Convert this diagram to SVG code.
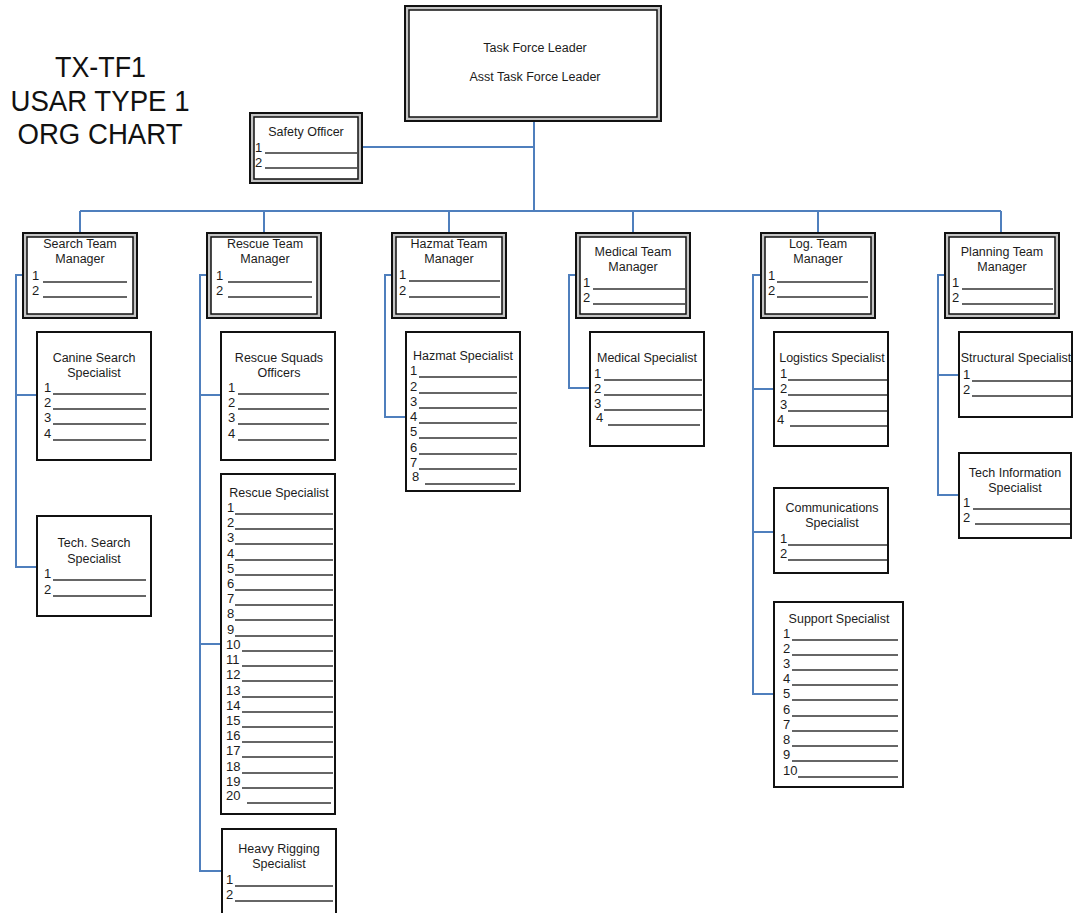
<svg xmlns="http://www.w3.org/2000/svg" width="1074" height="913" viewBox="0 0 1074 913">
<style>
.conn{stroke:#4f7fbd;stroke-width:2;fill:none}
.box{fill:#fff;stroke:#111;stroke-width:2}
.outer{fill:#c4c4c4;stroke:#111;stroke-width:2}
.inner{fill:#fff;stroke:#111;stroke-width:1.5}
.t{font-family:"Liberation Sans",Arial,sans-serif;font-size:12.5px;fill:#1c1c1c}
text.t:not(.c){font-size:13px;transform:translateY(-2px)}
.c{text-anchor:middle}
.ttl{font-family:"Liberation Sans",Arial,sans-serif;font-size:29px;fill:#111;text-anchor:middle}
.ln{stroke:#333;stroke-width:1.3}
</style>
<rect width="1074" height="913" fill="#fff"/>
<g id="title">
<text class="ttl" x="100.5" y="77" textLength="91" lengthAdjust="spacingAndGlyphs">TX-TF1</text>
<text class="ttl" x="100" y="111" textLength="179" lengthAdjust="spacingAndGlyphs">USAR TYPE 1</text>
<text class="ttl" x="100" y="144" textLength="165" lengthAdjust="spacingAndGlyphs">ORG CHART</text>
</g>
<g id="connectors">
<path class="conn" d="M534,121V211M362,147H534M80,211H1001M80,211V233M264,211V233M449,211V233M633,211V233M818,211V233M1001,211V233"/>
<path class="conn" d="M23,275H16V567H37M16,395H37"/>
<path class="conn" d="M207,275H200V871H222M200,395H221M200,644H221"/>
<path class="conn" d="M392,275H385V417H406"/>
<path class="conn" d="M576,275H569V388H590"/>
<path class="conn" d="M761,275H753V694H774M753,389H774M753,532H774"/>
<path class="conn" d="M945,275H938V495H959M938,375H959"/>
</g>
<g id="task-force-leader">
<rect class="outer" x="405" y="6" width="256" height="115"/>
<rect class="inner" x="409" y="10" width="248" height="107"/>
<text class="t c" x="535" y="52">Task Force Leader</text>
<text class="t c" x="535" y="81">Asst Task Force Leader</text>
</g>
<g id="safety-officer">
<rect class="outer" x="250" y="113" width="112" height="70"/>
<rect class="inner" x="254" y="117" width="104" height="62"/>
<text class="t c" x="306" y="136">Safety Officer</text>
<text class="t" x="255" y="154">1</text><line class="ln" x1="265" y1="153" x2="357" y2="153"/>
<text class="t" x="255" y="169">2</text><line class="ln" x1="265" y1="168" x2="357" y2="168"/>
</g>
<g id="search-team-manager">
<rect class="outer" x="23" y="233" width="114" height="85"/>
<rect class="inner" x="27" y="237" width="106" height="77"/>
<text class="t c" x="80" y="248">Search Team</text>
<text class="t c" x="80" y="263">Manager</text>
<text class="t" x="32" y="282">1</text><line class="ln" x1="43" y1="282" x2="127" y2="282"/>
<text class="t" x="32" y="297">2</text><line class="ln" x1="43" y1="297" x2="127" y2="297"/>
</g>
<g id="rescue-team-manager">
<rect class="outer" x="207" y="233" width="114" height="85"/>
<rect class="inner" x="211" y="237" width="106" height="77"/>
<text class="t c" x="265" y="248">Rescue Team</text>
<text class="t c" x="265" y="263">Manager</text>
<text class="t" x="216" y="282">1</text><line class="ln" x1="228" y1="282" x2="312" y2="282"/>
<text class="t" x="216" y="297">2</text><line class="ln" x1="228" y1="297" x2="312" y2="297"/>
</g>
<g id="hazmat-team-manager">
<rect class="outer" x="392" y="233" width="114" height="85"/>
<rect class="inner" x="396" y="237" width="106" height="77"/>
<text class="t c" x="449" y="248">Hazmat Team</text>
<text class="t c" x="449" y="263">Manager</text>
<text class="t" x="399" y="281">1</text><line class="ln" x1="409" y1="281" x2="500" y2="281"/>
<text class="t" x="399" y="297">2</text><line class="ln" x1="409" y1="297" x2="500" y2="297"/>
</g>
<g id="medical-team-manager">
<rect class="outer" x="576" y="233" width="114" height="85"/>
<rect class="inner" x="580" y="237" width="106" height="77"/>
<text class="t c" x="633" y="256">Medical Team</text>
<text class="t c" x="633" y="271">Manager</text>
<text class="t" x="583" y="289">1</text><line class="ln" x1="593" y1="289" x2="685" y2="289"/>
<text class="t" x="583" y="304">2</text><line class="ln" x1="593" y1="304" x2="685" y2="304"/>
</g>
<g id="log-team-manager">
<rect class="outer" x="761" y="233" width="114" height="85"/>
<rect class="inner" x="765" y="237" width="106" height="77"/>
<text class="t c" x="818" y="248">Log. Team</text>
<text class="t c" x="818" y="263">Manager</text>
<text class="t" x="768" y="282">1</text><line class="ln" x1="777" y1="282" x2="868" y2="282"/>
<text class="t" x="768" y="297">2</text><line class="ln" x1="777" y1="297" x2="868" y2="297"/>
</g>
<g id="planning-team-manager">
<rect class="outer" x="945" y="233" width="114" height="85"/>
<rect class="inner" x="949" y="237" width="106" height="77"/>
<text class="t c" x="1002" y="256">Planning Team</text>
<text class="t c" x="1002" y="271">Manager</text>
<text class="t" x="952" y="289">1</text><line class="ln" x1="962" y1="289" x2="1053" y2="289"/>
<text class="t" x="952" y="304">2</text><line class="ln" x1="962" y1="304" x2="1053" y2="304"/>
</g>
<g id="canine-search-specialist">
<rect class="box" x="37" y="332" width="114" height="128"/>
<text class="t c" x="94" y="362">Canine Search</text>
<text class="t c" x="94" y="377">Specialist</text>
<text class="t" x="44" y="394">1</text><line class="ln" x1="53" y1="394" x2="146" y2="394"/>
<text class="t" x="44" y="409">2</text><line class="ln" x1="53" y1="409" x2="146" y2="409"/>
<text class="t" x="44" y="424">3</text><line class="ln" x1="53" y1="424" x2="146" y2="424"/>
<text class="t" x="44" y="440">4</text><line class="ln" x1="53" y1="440" x2="146" y2="440"/>
</g>
<g id="tech-search-specialist">
<rect class="box" x="37" y="516" width="114" height="100"/>
<text class="t c" x="94" y="547">Tech. Search</text>
<text class="t c" x="94" y="563">Specialist</text>
<text class="t" x="44" y="580">1</text><line class="ln" x1="53" y1="580" x2="146" y2="580"/>
<text class="t" x="44" y="596">2</text><line class="ln" x1="53" y1="596" x2="146" y2="596"/>
</g>
<g id="rescue-squads-officers">
<rect class="box" x="221" y="332" width="114" height="128"/>
<text class="t c" x="279" y="362">Rescue Squads</text>
<text class="t c" x="279" y="377">Officers</text>
<text class="t" x="228" y="394">1</text><line class="ln" x1="238" y1="394" x2="329" y2="394"/>
<text class="t" x="228" y="409">2</text><line class="ln" x1="238" y1="409" x2="329" y2="409"/>
<text class="t" x="228" y="424">3</text><line class="ln" x1="238" y1="424" x2="329" y2="424"/>
<text class="t" x="228" y="440">4</text><line class="ln" x1="238" y1="440" x2="329" y2="440"/>
</g>
<g id="rescue-specialist">
<rect class="box" x="221" y="474" width="114" height="340"/>
<text class="t c" x="279" y="497">Rescue Specialist</text>
<text class="t" x="227" y="514">1</text><line class="ln" x1="235" y1="514" x2="333" y2="514"/>
<text class="t" x="227" y="529">2</text><line class="ln" x1="235" y1="529" x2="333" y2="529"/>
<text class="t" x="227" y="544">3</text><line class="ln" x1="235" y1="544" x2="333" y2="544"/>
<text class="t" x="227" y="560">4</text><line class="ln" x1="235" y1="560" x2="333" y2="560"/>
<text class="t" x="227" y="575">5</text><line class="ln" x1="235" y1="575" x2="333" y2="575"/>
<text class="t" x="227" y="590">6</text><line class="ln" x1="235" y1="590" x2="333" y2="590"/>
<text class="t" x="227" y="605">7</text><line class="ln" x1="235" y1="605" x2="333" y2="605"/>
<text class="t" x="227" y="620">8</text><line class="ln" x1="235" y1="620" x2="333" y2="620"/>
<text class="t" x="227" y="636">9</text><line class="ln" x1="235" y1="636" x2="333" y2="636"/>
<text class="t" x="226" y="651">10</text><line class="ln" x1="242" y1="651" x2="333" y2="651"/>
<text class="t" x="226" y="666">11</text><line class="ln" x1="242" y1="666" x2="333" y2="666"/>
<text class="t" x="226" y="681">12</text><line class="ln" x1="242" y1="681" x2="333" y2="681"/>
<text class="t" x="226" y="697">13</text><line class="ln" x1="242" y1="697" x2="333" y2="697"/>
<text class="t" x="226" y="712">14</text><line class="ln" x1="242" y1="712" x2="333" y2="712"/>
<text class="t" x="226" y="727">15</text><line class="ln" x1="242" y1="727" x2="333" y2="727"/>
<text class="t" x="226" y="742">16</text><line class="ln" x1="242" y1="742" x2="333" y2="742"/>
<text class="t" x="226" y="757">17</text><line class="ln" x1="242" y1="757" x2="333" y2="757"/>
<text class="t" x="226" y="773">18</text><line class="ln" x1="242" y1="773" x2="333" y2="773"/>
<text class="t" x="226" y="788">19</text><line class="ln" x1="242" y1="788" x2="333" y2="788"/>
<text class="t" x="226" y="802">20</text><line class="ln" x1="247" y1="803" x2="331" y2="803"/>
</g>
<g id="heavy-rigging-specialist">
<rect class="box" x="222" y="829" width="114" height="95"/>
<text class="t c" x="279" y="853">Heavy Rigging</text>
<text class="t c" x="279" y="868">Specialist</text>
<text class="t" x="226" y="886">1</text><line class="ln" x1="235" y1="886" x2="333" y2="886"/>
<text class="t" x="226" y="901">2</text><line class="ln" x1="235" y1="901" x2="333" y2="901"/>
</g>
<g id="hazmat-specialist">
<rect class="box" x="406" y="332" width="114" height="159"/>
<text class="t c" x="463" y="360">Hazmat Specialist</text>
<text class="t" x="410" y="377">1</text><line class="ln" x1="419" y1="377" x2="517" y2="377"/>
<text class="t" x="410" y="393">2</text><line class="ln" x1="419" y1="393" x2="517" y2="393"/>
<text class="t" x="410" y="408">3</text><line class="ln" x1="419" y1="408" x2="517" y2="408"/>
<text class="t" x="410" y="423">4</text><line class="ln" x1="419" y1="423" x2="517" y2="423"/>
<text class="t" x="410" y="438">5</text><line class="ln" x1="419" y1="438" x2="517" y2="438"/>
<text class="t" x="410" y="454">6</text><line class="ln" x1="419" y1="454" x2="517" y2="454"/>
<text class="t" x="410" y="469">7</text><line class="ln" x1="419" y1="469" x2="517" y2="469"/>
<text class="t" x="412" y="483">8</text><line class="ln" x1="425" y1="484" x2="515" y2="484"/>
</g>
<g id="medical-specialist">
<rect class="box" x="590" y="332" width="114" height="114"/>
<text class="t c" x="647" y="362">Medical Specialist</text>
<text class="t" x="594" y="380">1</text><line class="ln" x1="604" y1="380" x2="702" y2="380"/>
<text class="t" x="594" y="395">2</text><line class="ln" x1="604" y1="395" x2="702" y2="395"/>
<text class="t" x="594" y="410">3</text><line class="ln" x1="604" y1="410" x2="702" y2="410"/>
<text class="t" x="596" y="424">4</text><line class="ln" x1="608" y1="425" x2="700" y2="425"/>
</g>
<g id="logistics-specialist">
<rect class="box" x="774" y="332" width="114" height="114"/>
<text class="t c" x="832" y="362">Logistics Specialist</text>
<text class="t" x="780" y="380">1</text><line class="ln" x1="788" y1="380" x2="887" y2="380"/>
<text class="t" x="780" y="395">2</text><line class="ln" x1="788" y1="395" x2="887" y2="395"/>
<text class="t" x="780" y="411">3</text><line class="ln" x1="788" y1="411" x2="887" y2="411"/>
<text class="t" x="777" y="426">4</text><line class="ln" x1="790" y1="426" x2="887" y2="426"/>
</g>
<g id="communications-specialist">
<rect class="box" x="774" y="488" width="114" height="85"/>
<text class="t c" x="832" y="512">Communications</text>
<text class="t c" x="832" y="527">Specialist</text>
<text class="t" x="780" y="545">1</text><line class="ln" x1="788" y1="545" x2="887" y2="545"/>
<text class="t" x="780" y="560">2</text><line class="ln" x1="788" y1="560" x2="887" y2="560"/>
</g>
<g id="support-specialist">
<rect class="box" x="774" y="602" width="129" height="185"/>
<text class="t c" x="839" y="623">Support Specialist</text>
<text class="t" x="783" y="640">1</text><line class="ln" x1="792" y1="640" x2="898" y2="640"/>
<text class="t" x="783" y="655">2</text><line class="ln" x1="792" y1="655" x2="898" y2="655"/>
<text class="t" x="783" y="670">3</text><line class="ln" x1="792" y1="670" x2="898" y2="670"/>
<text class="t" x="783" y="685">4</text><line class="ln" x1="792" y1="685" x2="898" y2="685"/>
<text class="t" x="783" y="700">5</text><line class="ln" x1="792" y1="700" x2="898" y2="700"/>
<text class="t" x="783" y="716">6</text><line class="ln" x1="792" y1="716" x2="898" y2="716"/>
<text class="t" x="783" y="731">7</text><line class="ln" x1="792" y1="731" x2="898" y2="731"/>
<text class="t" x="783" y="746">8</text><line class="ln" x1="792" y1="746" x2="898" y2="746"/>
<text class="t" x="783" y="761">9</text><line class="ln" x1="792" y1="761" x2="898" y2="761"/>
<text class="t" x="783" y="777">10</text><line class="ln" x1="798" y1="777" x2="898" y2="777"/>
</g>
<g id="structural-specialist">
<rect class="box" x="959" y="332" width="113" height="85"/>
<text class="t c" x="1016" y="362">Structural Specialist</text>
<text class="t" x="963" y="381">1</text><line class="ln" x1="972" y1="381" x2="1071" y2="381"/>
<text class="t" x="963" y="396">2</text><line class="ln" x1="972" y1="396" x2="1071" y2="396"/>
</g>
<g id="tech-information-specialist">
<rect class="box" x="959" y="453" width="112" height="85"/>
<text class="t c" x="1015" y="477">Tech Information</text>
<text class="t c" x="1015" y="492">Specialist</text>
<text class="t" x="963" y="509">1</text><line class="ln" x1="973" y1="509" x2="1070" y2="509"/>
<text class="t" x="963" y="524">2</text><line class="ln" x1="975" y1="524" x2="1070" y2="524"/>
</g>
</svg>
